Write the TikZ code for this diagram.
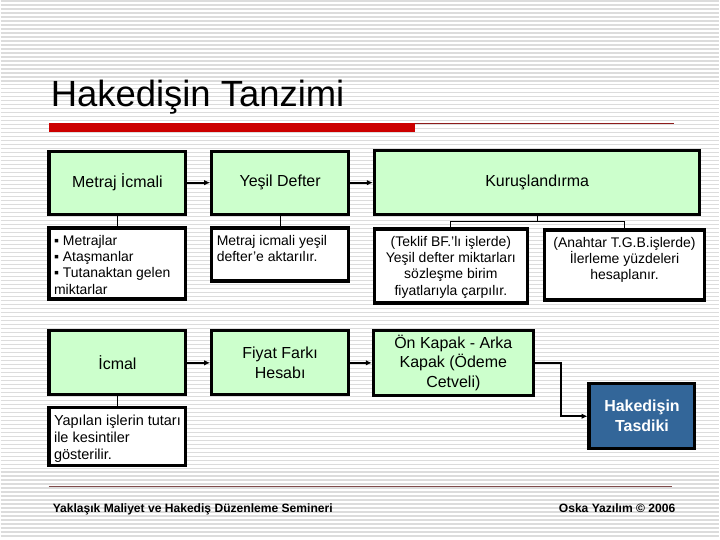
\documentclass[tikz,border=0pt]{standalone}
\usepackage{fontspec}
\setmainfont{Liberation Sans}
\usepackage{tikz}
\usetikzlibrary{arrows.meta}
\definecolor{boxgreen}{HTML}{CCFFCC}
\definecolor{tasdikblue}{HTML}{336699}
\definecolor{barred}{HTML}{CC0000}
\definecolor{thinred}{HTML}{8E1C1C}
\definecolor{footcol}{HTML}{7F4A4A}
\definecolor{stripec}{HTML}{DCDCDC}
\newcommand{\notetext}[3]{\parbox[c][#2][t]{#1}{#3}}

\begin{document}
\begin{tikzpicture}[x=1pt,y=-1pt,
  stepbox/.style={draw,line width=3.2pt,fill=boxgreen,align=center,inner sep=2pt,
    font={\fontsize{16}{19.5}\selectfont}},
  notebox/.style={draw,line width=3.2pt,fill=white,inner xsep=5pt,inner ysep=7pt,
    font={\fontsize{14}{16.4}\selectfont}},
  arr/.style={-{Latex[length=6pt,width=5.5pt]},line width=1.8pt},
  tie/.style={line width=1pt},
]
% striped slide background
\fill[white] (0,0) rectangle (720,540);
\foreach \y in {1,5,...,537}
  \draw[stripec,line width=1.3pt] (0,\y) -- (720,\y);
\useasboundingbox (0,0) rectangle (720,540);

% title and red bar
\node[anchor=base west,inner sep=0,font={\fontsize{36.5}{40}\selectfont}] (title) at (50,107) {Hakedişin Tanzimi};
\fill[barred] (48,123) rectangle (415,132);
\draw[thinred,line width=1pt] (415,123.5) -- (675,123.5);

% first row
\node[stepbox,minimum width=137pt,minimum height=63pt] (metraj) at (117,183) {Metraj İcmali};
\node[stepbox,minimum width=137pt,minimum height=63pt] (yesil) at (280,183) {Yeşil Defter};
\node[stepbox,minimum width=326pt,minimum height=64pt] (kurus) at (537.5,183) {Kuruşlandırma};

\node[notebox] (metrajnot) at (117,264)
  {\notetext{127pt}{57pt}{\raggedright ▪ Metrajlar\\ ▪ Ataşmanlar\\ ▪ Tutanaktan gelen\\ miktarlar}};
\node[notebox] (yesilnot) at (280,255)
  {\notetext{127pt}{39pt}{\raggedright Metraj icmali yeşil\\ defter'e aktarılır.}};
\node[notebox] (teklif) at (451,266.5)
  {\notetext{143pt}{60pt}{\centering (Teklif BF.'lı işlerde)\\ Yeşil defter miktarları\\ sözleşme birim\\ fiyatlarıyla çarpılır.}};
\node[notebox] (anahtar) at (625,265.5)
  {\notetext{151pt}{56pt}{\centering (Anahtar T.G.B.işlerde)\\ İlerleme yüzdeleri\\ hesaplanır.}};

\draw[arr] (metraj) -- (yesil);
\draw[arr] (yesil) -- (kurus);
\draw[tie] (metraj) -- (metrajnot);
\draw[tie] (yesil) -- (yesilnot);
\draw[tie] (kurus.south) -- ++(0,5) -| (teklif.north);
\draw[tie] (kurus.south) -- ++(0,5) -| (anahtar.north);

% second row
\node[stepbox,minimum width=137pt,minimum height=64pt] (icmal) at (117,363.5) {İcmal};
\node[stepbox,minimum width=137pt,minimum height=64pt] (fiyat) at (280,363.5) {Fiyat Farkı\\Hesabı};
\node[stepbox,minimum width=160pt,minimum height=65pt] (onkapak) at (453.5,363.5) {Ön Kapak - Arka\\Kapak (Ödeme\\Cetveli)};
\node[stepbox,fill=tasdikblue,text=white,font={\bfseries\fontsize{16}{20}\selectfont},
      minimum width=106pt,minimum height=65pt] (tasdik) at (642.5,417) {Hakedişin\\Tasdiki};
\node[notebox,font={\fontsize{14.5}{17}\selectfont}] (yapilan) at (117,437.5)
  {\notetext{127pt}{44pt}{\raggedright Yapılan işlerin tutarı\\ ile kesintiler\\ gösterilir.}};

\draw[arr] (icmal) -- (fiyat);
\draw[arr] (fiyat) -- (onkapak);
\draw[arr] (onkapak.east) -- ++(26,0) |- (tasdik.west);
\draw[tie] (icmal) -- (yapilan);

% footer
\draw[footcol,line width=1pt] (48,487) -- (673,487);
\node[anchor=base west,inner sep=0,font={\bfseries\fontsize{12.1}{14}\selectfont}] (footl) at (52,513)
  {Yaklaşık Maliyet ve Hakediş Düzenleme Semineri};
\node[anchor=base east,inner sep=0,font={\bfseries\fontsize{12.1}{14}\selectfont}] (footr) at (676,513)
  {Oska Yazılım © 2006};
\end{tikzpicture}
\end{document}
